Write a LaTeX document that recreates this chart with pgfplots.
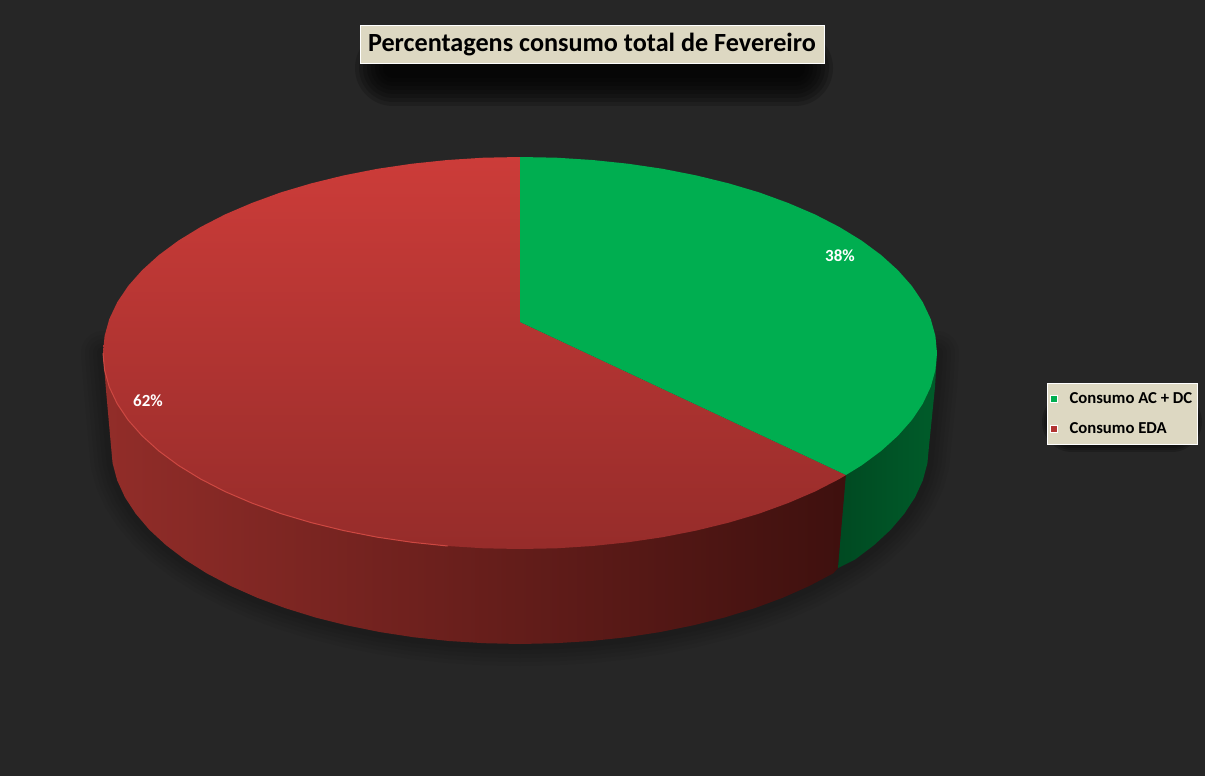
\documentclass[border=0pt]{standalone}
\usepackage{pgfplots}
\usepackage{pgfplotstable}
\usepackage{fontspec}
\setmainfont{Carlito}
\pgfplotsset{compat=1.18}

\definecolor{bgdark}{RGB}{38,38,38}
\definecolor{boxfill}{RGB}{221,216,194}
\definecolor{greentop}{RGB}{0,174,80}
\definecolor{redmark}{RGB}{178,52,50}

% outlines in pixel coordinates of the picture
\pgfplotstableread{
x y
520 322
520 157
556.4 157.7
592.4 160
627.9 163.7
662.6 168.8
696.2 175.4
728.5 183.3
759.2 192.4
788 202.9
814.9 214.4
839.4 227
861.6 240.6
881.1 255
897.9 270.2
911.9 286
922.8 302.3
930.7 319
935.4 335.9
937 353
935.4 370.1
930.7 387
922.8 403.7
911.9 420
897.9 435.8
881.1 451
861.6 465.4
846 475
}\greenwedge

\pgfplotstableread{
x y
520 322
846 475
839.4 479
814.9 491.6
788 503.1
759.2 513.6
728.5 522.7
696.2 530.6
662.6 537.2
627.9 542.3
592.4 546
556.4 548.3
520 549
483.6 548.3
447.6 546
412.1 542.3
377.4 537.2
343.8 530.6
311.5 522.7
280.8 513.6
252 503.1
225.1 491.6
200.6 479
178.4 465.4
158.9 451
142.1 435.8
128.1 420
117.2 403.7
109.3 387
104.6 370.1
103 353
104.6 335.9
109.3 319
117.2 302.3
128.1 286
142.1 270.2
158.9 255
178.4 240.6
200.6 227
225.1 214.4
252 202.9
280.8 192.4
311.5 183.3
343.8 175.4
377.4 168.8
412.1 163.7
447.6 160
483.6 157.7
520 157
}\redwedge

\pgfplotstableread{
x y
846 475
838 568
855 559.6
874.2 545
890.7 529.7
904.3 513.7
915.1 497.2
922.8 480.4
927.4 463.3
929 446
935 387
937 353
800 400
}\greenside

\pgfplotstableread{
x y
846 475
838 568
833.3 573.3
809.2 586
782.9 597.7
754.6 608.2
724.5 617.5
692.9 625.4
659.9 632.1
625.9 637.3
591 641
555.6 643.2
520 644
484.4 643.2
449 641
414.1 637.3
380.1 632.1
347.1 625.4
315.5 617.5
285.4 608.2
257.1 597.7
230.8 586
206.7 573.3
185 559.6
165.8 545
149.3 529.7
135.7 513.7
124.9 497.2
117.2 480.4
112.6 463.3
111 446
106 390
103 353
520 400
}\redside

\pgfplotstableread{
x y
937 353
935 387
929 446
927.4 463.3
922.8 480.4
915.1 497.2
904.3 513.7
890.7 529.7
874.2 545
855 559.6
838 570
809.2 586
782.9 597.7
754.6 608.2
724.5 617.5
692.9 625.4
659.9 632.1
625.9 637.3
591 641
555.6 643.2
520 644
484.4 643.2
449 641
414.1 637.3
380.1 632.1
347.1 625.4
315.5 617.5
285.4 608.2
257.1 597.7
230.8 586
206.7 573.3
185 559.6
165.8 545
149.3 529.7
135.7 513.7
124.9 497.2
117.2 480.4
112.6 463.3
111 446
106 390
103 353
}\lowerarc

\pgfplotstableread{
x y
103 353
104.6 370.1
109.3 387
117.2 403.7
128.1 420
142.1 435.8
158.9 451
178.4 465.4
200.6 479
225.1 491.6
252 503.1
280.8 513.6
311.5 522.7
343.8 530.6
377.4 537.2
412.1 542.3
447.6 546
}\rimlight

\pgfplotsset{
    halo/.style={draw=black, opacity=.05, line join=round, line cap=round},
    titleshadow/.style={draw=black, opacity=.17, line cap=round},
    legendshadow/.style={draw=black, opacity=.2, line cap=round},
}

\begin{document}
\begin{tikzpicture}
\begin{axis}[
    width=1205pt,
    height=776pt,
    scale only axis,
    xmin=0, xmax=1205,
    ymin=0, ymax=776,
    y dir=reverse,
    axis lines=none,
    ticks=none,
    every axis plot/.append style={forget plot},
    legend style={
        at={(axis cs:1047,383)},
        anchor=north west,
        draw=white,
        fill=boxfill,
        line width=1pt,
        font=\fontsize{16.7}{20}\selectfont\bfseries,
        text=black,
        row sep=14pt,
        inner xsep=3pt,
        inner ysep=7pt,
        legend cell align=left,
        /tikz/column 1/.style={column sep=10pt},
    },
]

% background
\addplot[fill=bgdark, draw=none] coordinates {(0,0)(1205,0)(1205,776)(0,776)};

% halo under the pie
\addplot[halo, line width=44pt] table {\lowerarc};
\addplot[halo, line width=36pt] table {\lowerarc};
\addplot[halo, line width=28pt] table {\lowerarc};
\addplot[halo, line width=20pt] table {\lowerarc};
\addplot[halo, line width=12pt] table {\lowerarc};

% title shadow
\addplot[titleshadow, line width=76pt] coordinates {(393,68)(795,68)};
\addplot[titleshadow, line width=68pt] coordinates {(393,68)(795,68)};
\addplot[titleshadow, line width=60pt] coordinates {(393,68)(795,68)};
\addplot[titleshadow, line width=52pt] coordinates {(393,68)(795,68)};
\addplot[titleshadow, line width=44pt] coordinates {(393,68)(795,68)};
\addplot[titleshadow, line width=36pt] coordinates {(393,68)(795,68)};
\addplot[titleshadow, line width=28pt] coordinates {(393,68)(795,68)};
\addplot[titleshadow, line width=20pt] coordinates {(393,68)(795,68)};

% legend shadow
\addplot[legendshadow, line width=60pt] coordinates {(1072,422)(1172,422)};
\addplot[legendshadow, line width=56pt] coordinates {(1072,422)(1172,422)};
\addplot[legendshadow, line width=52pt] coordinates {(1072,422)(1172,422)};
\addplot[legendshadow, line width=48pt] coordinates {(1072,422)(1172,422)};
\addplot[legendshadow, line width=44pt] coordinates {(1072,422)(1172,422)};
\addplot[legendshadow, line width=40pt] coordinates {(1072,422)(1172,422)};

% sides
\addplot[draw=none, left color={rgb,255:red,146;green,45;blue,41}, middle color={rgb,255:red,92;green,28;blue,25}, right color={rgb,255:red,62;green,16;blue,14}] table {\redside};
\addplot[draw=none, left color={rgb,255:red,0;green,66;blue,30}, right color={rgb,255:red,0;green,92;blue,42}] table {\greenside};

% top
\addplot[draw=none, top color={rgb,255:red,204;green,60;blue,57}, bottom color={rgb,255:red,150;green,44;blue,42}] table {\redwedge};
\addplot[draw=none, fill=greentop] table {\greenwedge};
\addplot[draw={rgb,255:red,205;green,72;blue,66}, line width=1pt] table {\rimlight};

% title and data labels
\node[draw=white, line width=1pt, fill=boxfill, text=black, font=\fontsize{26.2}{30}\selectfont\bfseries,
    minimum width=464pt, minimum height=38pt, inner sep=0pt] at (axis cs:592,45) {\raisebox{-2pt}{Percentagens consumo total de Fevereiro}};
\node[text=white, font=\fontsize{17}{20}\selectfont\bfseries] at (axis cs:840,256) {38\%};
\node[text=white, font=\fontsize{17}{20}\selectfont\bfseries] at (axis cs:148,401) {62\%};

% legend
\addlegendimage{only marks, mark=square*, mark size=3.5pt, mark options={draw=white, fill=greentop, line width=.6pt, xshift=5pt}}
\addlegendentry{Consumo AC + DC}
\addlegendimage{only marks, mark=square*, mark size=3.5pt, mark options={draw=white, fill=redmark, line width=.6pt, xshift=5pt}}
\addlegendentry{Consumo EDA}
\end{axis}
\end{tikzpicture}
\end{document}
